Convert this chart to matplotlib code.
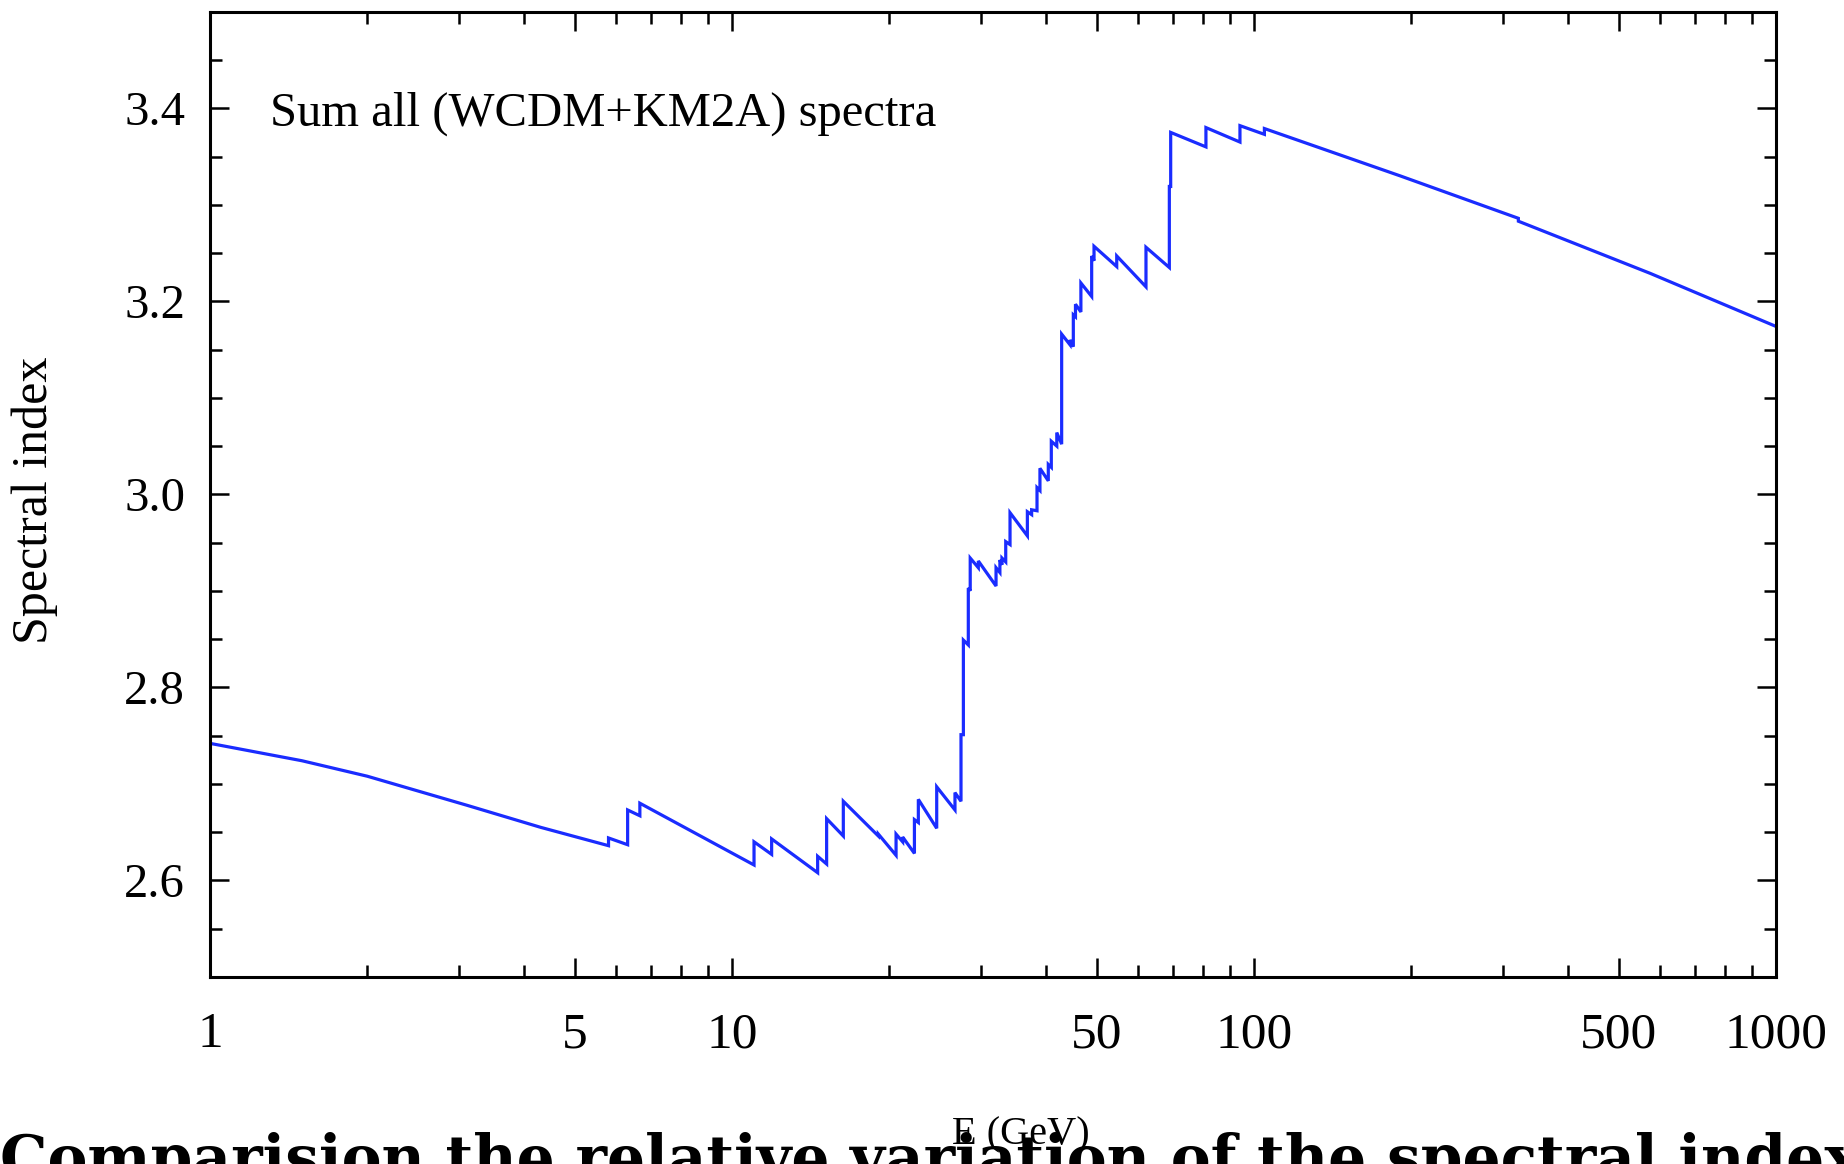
import numpy as np
import matplotlib
matplotlib.use("Agg")
from matplotlib import pyplot as plt
from matplotlib.ticker import FixedLocator, NullFormatter

plt.rcParams['font.family'] = ['Liberation Serif', 'DejaVu Serif']

# spectral index of the summed (WCDM+KM2A) spectra
energy = [1.0, 1.5, 2.0, 3.1, 4.3, 5.80, 5.80, 6.31, 6.31, 6.66, 6.66,
          11.02, 11.02, 11.91, 11.91, 14.59, 14.59, 15.18, 15.18, 16.34, 16.34,
          19.07, 19.07, 20.62, 20.62, 21.23, 21.23, 22.36, 22.36, 22.75, 22.75,
          24.67, 24.67, 26.74, 26.74, 27.46, 27.46, 27.75, 27.75, 28.36, 28.36,
          28.6, 28.6, 29.64, 29.64, 32.05, 32.05, 32.6, 32.6, 32.9, 32.9,
          33.45, 33.45, 34.09, 34.09, 36.80, 36.80, 37.5, 37.5, 38.4, 38.4,
          38.9, 38.9, 40.36, 40.36, 40.9, 40.9, 41.9, 41.9, 42.81, 42.81,
          44.41, 44.41, 45.07, 45.07, 45.5, 45.5, 46.6, 46.6, 48.87, 48.87,
          49.38, 49.38, 54.58, 54.58, 62.10, 62.10, 68.84, 68.84, 69.25, 69.25,
          80.9, 80.9, 94.0, 94.0, 104.7, 104.7, 190.5, 321.0, 321.0, 574.0, 1000.0]
index = [2.742, 2.724, 2.708, 2.678, 2.655, 2.636, 2.644, 2.637, 2.673, 2.667, 2.680,
         2.616, 2.640, 2.627, 2.643, 2.608, 2.625, 2.617, 2.664, 2.646, 2.682,
         2.646, 2.648, 2.626, 2.648, 2.640, 2.645, 2.628, 2.663, 2.660, 2.684,
         2.654, 2.697, 2.673, 2.691, 2.682, 2.751, 2.751, 2.849, 2.844, 2.903,
         2.900, 2.934, 2.924, 2.931, 2.905, 2.924, 2.919, 2.932, 2.927, 2.934,
         2.930, 2.951, 2.948, 2.981, 2.957, 2.982, 2.979, 2.984, 2.983, 3.007,
         3.004, 3.027, 3.014, 3.031, 3.028, 3.055, 3.050, 3.064, 3.052, 3.166,
         3.155, 3.160, 3.153, 3.186, 3.184, 3.197, 3.189, 3.219, 3.205, 3.247,
         3.242, 3.257, 3.236, 3.247, 3.215, 3.256, 3.235, 3.319, 3.319, 3.375,
         3.360, 3.380, 3.365, 3.382, 3.373, 3.379, 3.330, 3.286, 3.283, 3.229, 3.174]

x_major = [1, 5, 10, 50, 100, 500, 1000]
x_labels = ['1', '5', '10', '50', '100', '500', '1000']
y_major = [2.6, 2.8, 3.0, 3.2, 3.4]
y_labels = ['2.6', '2.8', '3.0', '3.2', '3.4']

fig = plt.figure(figsize=(18.44, 11.64), dpi=100)

# cut-off caption line at the bottom edge of the page (drawn first, under the x label)
fig.text(0.0, -0.012, 'Comparision the relative variation of the spectral index fo',
         fontsize=43, fontweight='bold', family='DejaVu Serif',
         ha='left', va='baseline', zorder=1)

ax = fig.add_axes([0.1139, 0.1607, 0.8492, 0.8292])

ax.plot(energy, index, color='#1a2cff', lw=2.3, solid_joinstyle='miter')

ax.set_xscale('log')
ax.set_xlim(1, 1000)
ax.set_ylim(2.5, 3.5)

minor_x = [v * d for d in (1, 10, 100) for v in (2, 3, 4, 6, 7, 8, 9)]
ax.xaxis.set_major_locator(FixedLocator(x_major))
ax.xaxis.set_minor_locator(FixedLocator(minor_x))
ax.set_xticklabels(x_labels)
ax.xaxis.set_minor_formatter(NullFormatter())
ax.yaxis.set_major_locator(FixedLocator(y_major))
ax.yaxis.set_minor_locator(FixedLocator(np.arange(2.5, 3.51, 0.05)))
ax.set_yticklabels(y_labels)

ax.tick_params(which='both', direction='in', top=True, right=True,
               width=1.8, colors='black')
ax.tick_params(which='major', length=14)
ax.tick_params(which='minor', length=8.5)
ax.tick_params(axis='x', which='major', pad=25, labelsize=37)
ax.tick_params(axis='y', which='major', pad=18, labelsize=35)
for s in ax.spines.values():
    s.set_linewidth(2.2)

ax.text(0.038, 0.894, 'Sum all (WCDM+KM2A) spectra', transform=ax.transAxes,
        fontsize=35, va='center', ha='left')

fig.text(0.019, 0.570, 'Spectral index', rotation=90, fontsize=36,
         ha='center', va='center')
fig.text(0.5535, 0.025, 'E (GeV)', fontsize=29, ha='center', va='center', zorder=5)

fig.savefig('out.png', dpi=100)
